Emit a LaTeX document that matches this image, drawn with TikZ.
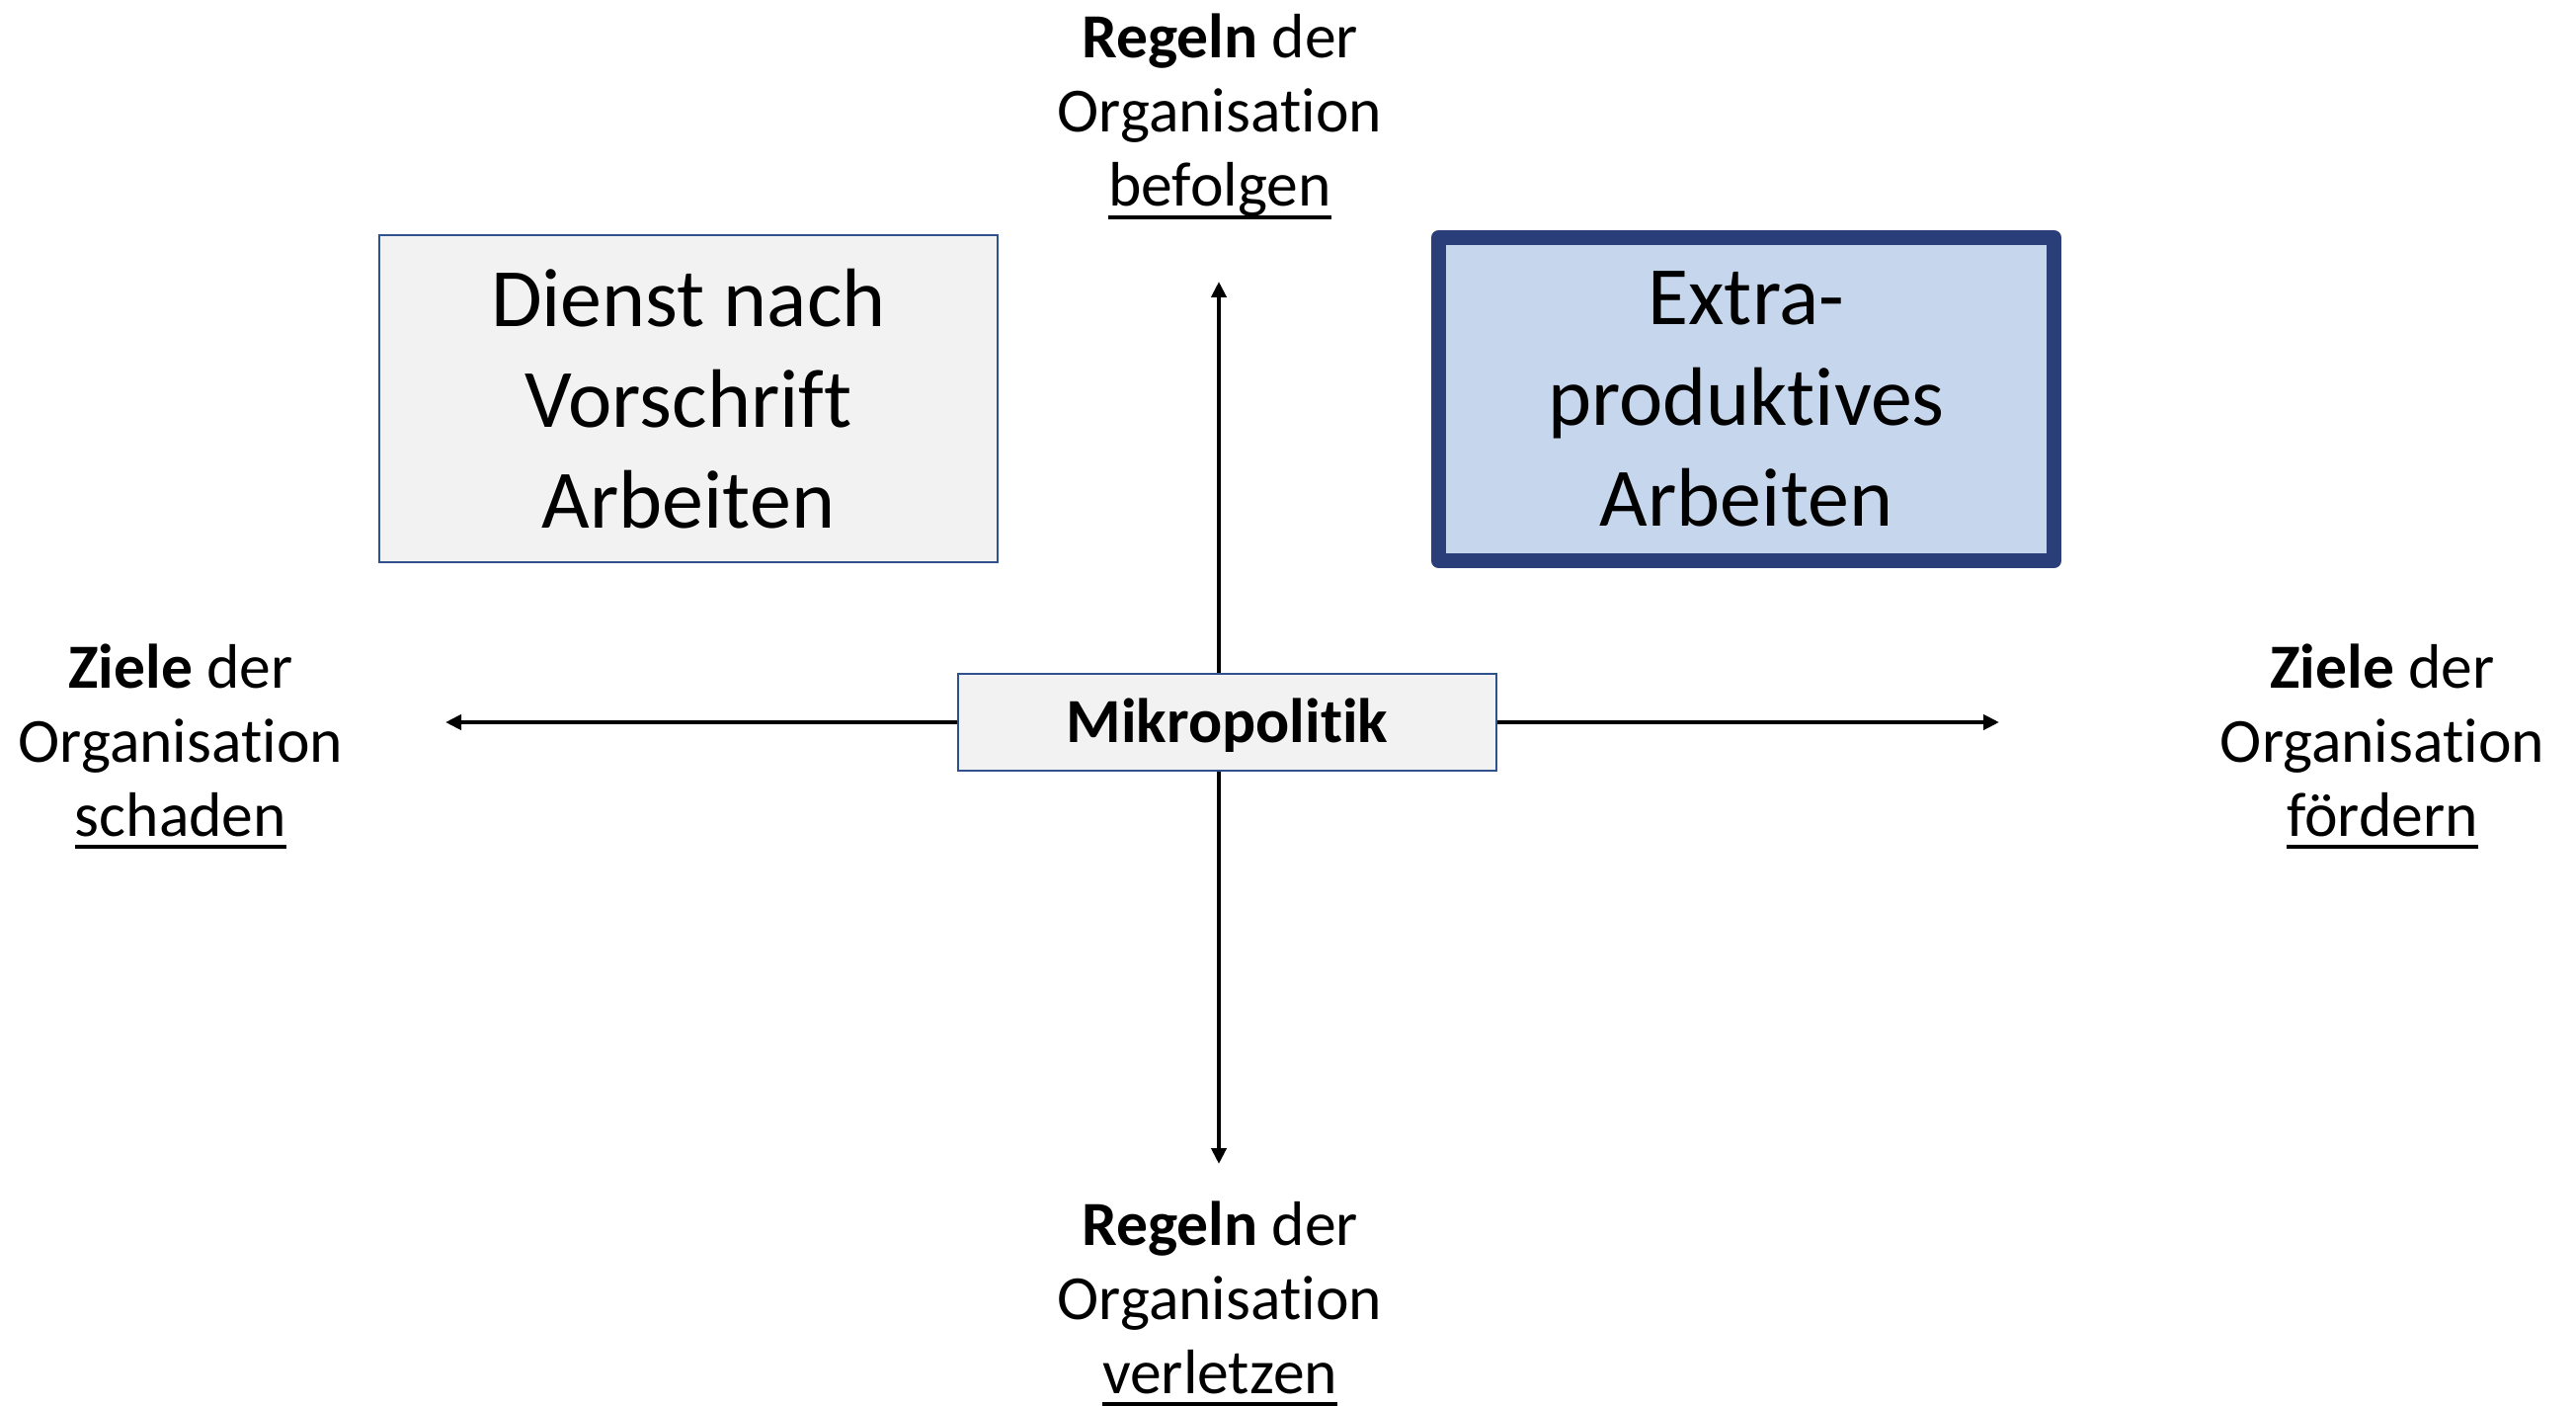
\documentclass[tikz,border=0pt]{standalone}
\usepackage{fontspec}
\setmainfont{Carlito}[Ligatures=NoCommon]
\usetikzlibrary{arrows.meta}
\definecolor{boxgray}{HTML}{F2F2F2}
\definecolor{thinblue}{HTML}{2F528F}
\definecolor{darkblue}{HTML}{2A3E7A}
\definecolor{lightblue}{HTML}{C6D6EC}
\newcommand{\myul}[1]{\setbox0\hbox{#1}\leavevmode\rlap{\rule[-0.2em]{\wd0}{0.065em}}\box0}
\tikzset{
  plainbox/.style={draw=thinblue, line width=1pt, fill=boxgray, inner sep=0pt, align=center,
    font=\fontsize{42pt}{51pt}\selectfont},
  extrabox/.style={draw=darkblue, line width=7.5pt, line join=round, fill=lightblue, inner sep=0pt, align=center,
    font=\fontsize{42pt}{51pt}\selectfont},
  mikbox/.style={draw=thinblue, line width=1pt, fill=boxgray, inner sep=0pt,
    font=\fontsize{31.8pt}{37.5pt}\selectfont\bfseries, text height=20.5pt, text depth=0pt},
  lbl/.style={anchor=base, align=center, inner sep=0pt, font=\fontsize{31.8pt}{37.5pt}\selectfont},
  axis/.style={line width=2.3pt, -{Triangle[length=8pt,width=7.5pt]}}
}
\begin{document}
\begin{tikzpicture}[x=0.5pt,y=-0.5pt]
\useasboundingbox (0,0) rectangle (2608,1423);
\node[plainbox, minimum width=313pt, minimum height=165.5pt] (dienst) at (697,403.5) {Dienst nach\\Vorschrift\\Arbeiten};
\node[extrabox, minimum width=311.5pt, minimum height=163.5pt] (extra) at (1768,404) {Extra-\\produktives\\Arbeiten};
\coordinate (ltip) at (451,731);
\coordinate (rtip) at (2024,731);
\coordinate (ttip) at (1234,285);
\coordinate (btip) at (1234,1178);
\node[mikbox, minimum width=272.5pt, minimum height=49pt] (mik) at (1242.5,731) {Mikropolitik};
\draw[axis] (mik.west) -- (ltip);
\draw[axis] (mik.east) -- (rtip);
\draw[axis] (mik.north -| ttip) -- (ttip);
\draw[axis] (mik.south -| btip) -- (btip);
\node[lbl] (ltop) at (1235,209) {\textbf{Regeln} der\\Organisation\\\myul{befolgen}};
\node[lbl] (lbottom) at (1235,1410) {\textbf{Regeln} der\\Organisation\\\myul{verletzen}};
\node[lbl] (lleft) at (183,846) {\textbf{Ziele} der\\Organisation\\\myul{schaden}};
\node[lbl] (lright) at (2412,846) {\textbf{Ziele} der\\Organisation\\\myul{fördern}};
\end{tikzpicture}
\end{document}
